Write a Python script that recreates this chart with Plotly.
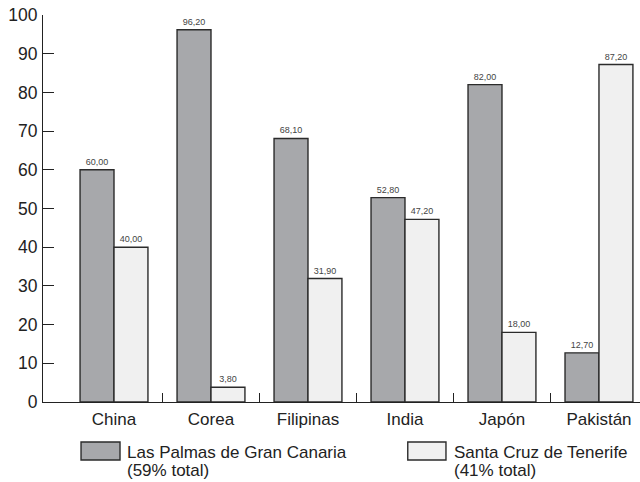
import plotly.graph_objects as go

# Datos por país y provincia
paises = ["China", "Corea", "Filipinas", "India", "Japón", "Pakistán"]
las_palmas = [60.00, 96.20, 68.10, 52.80, 82.00, 12.70]
santa_cruz = [40.00, 3.80, 31.90, 47.20, 18.00, 87.20]
series_nombres = ["Las Palmas de Gran Canaria", "Santa Cruz de Tenerife"]
series_totales = ["(59% total)", "(41% total)"]
y_ticks = [0, 10, 20, 30, 40, 50, 60, 70, 80, 90, 100]

COLOR_OSCURO = "#a7a8ab"
COLOR_CLARO = "#f0f0f0"
BORDE = "#2b2b2b"
FUENTE = "Liberation Sans, Arial, sans-serif"

X_RANGE = [-0.732, 5.423]

fig = go.Figure()
for nombre, valores, color in [
    (series_nombres[0], las_palmas, COLOR_OSCURO),
    (series_nombres[1], santa_cruz, COLOR_CLARO),
]:
    fig.add_trace(go.Bar(
        x=paises, y=valores, name=nombre,
        marker=dict(color=color, line=dict(color=BORDE, width=1.4)),
        texttemplate="%{y:.2f}", textposition="outside",
        textfont=dict(size=9, color="#444444", family=FUENTE),
        cliponaxis=False, showlegend=False,
    ))

# Eje auxiliar para las marcas separadoras entre países
fig.add_trace(go.Scatter(x=[0], y=[0], xaxis="x2", mode="markers",
                         marker=dict(opacity=0), showlegend=False, hoverinfo="skip"))

fig.update_layout(
    width=640, height=482,
    margin=dict(l=43, r=0, t=15, b=80),
    paper_bgcolor="white", plot_bgcolor="white",
    barmode="group", bargap=0.30, bargroupgap=0,
    separators=",.",
    font=dict(family=FUENTE, color="#222222", size=17),
    xaxis=dict(
        type="category", range=X_RANGE, showgrid=False, zeroline=False,
        showline=True, linecolor="#222222", linewidth=1.2,
        ticks="", tickfont=dict(size=17), ticklabelstandoff=1,
    ),
    xaxis2=dict(
        overlaying="x", anchor="y", side="bottom", range=X_RANGE,
        tickmode="array", tickvals=[0.5, 1.5, 2.5, 3.5, 4.5],
        ticks="inside", ticklen=9, tickwidth=1.2, tickcolor="#222222",
        showticklabels=False, showgrid=False, zeroline=False, showline=False,
    ),
    yaxis=dict(
        range=[0, 100], tickmode="array", tickvals=y_ticks,
        showgrid=False, zeroline=False,
        showline=True, linecolor="#222222", linewidth=1.2,
        ticks="inside", ticklen=11, tickwidth=1.2, tickcolor="#222222",
        tickfont=dict(size=17.5), ticklabelstandoff=1,
    ),
)

# Leyenda con cajas grandes
leyenda = [
    (0.0637, 0.129, COLOR_OSCURO, 0.1390),
    (0.611, 0.675, COLOR_CLARO, 0.6876),
]
for (x0, x1, color, xt), nombre, total in zip(leyenda, series_nombres, series_totales):
    fig.add_shape(type="rect", xref="paper", yref="paper",
                  x0=x0, x1=x1, y0=-0.1499, y1=-0.1034,
                  fillcolor=color, line=dict(color=BORDE, width=1.4))
    for linea, yt in ((nombre, -0.1292), (total, -0.1770)):
        fig.add_annotation(xref="paper", yref="paper", x=xt, y=yt,
                           xanchor="left", yanchor="middle", align="left",
                           text=linea, showarrow=False, borderpad=0,
                           font=dict(size=17, color="#222222"))

fig.write_html("out.html")
